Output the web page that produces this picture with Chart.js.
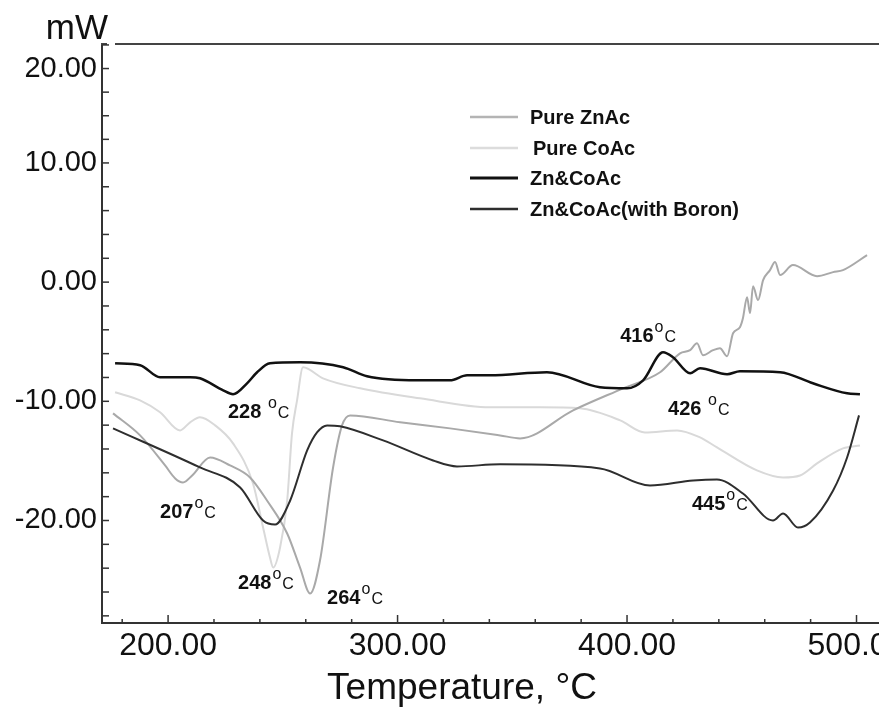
<!DOCTYPE html>
<html>
<head>
<meta charset="utf-8">
<script src="https://cdn.jsdelivr.net/npm/chart.js@4.4.0/dist/chart.umd.min.js"></script>
<style>
html, body { margin: 0; padding: 0; background: #fff; }
</style>
</head>
<body>
<canvas id="chart" width="879" height="708"></canvas>
<script>
// values (temperature in C, heat flow in mW)
const seriesNames = ['Pure ZnAc', 'Pure CoAc', 'Zn&CoAc', 'Zn&CoAc(with Boron)'];

const tempZnAc = [176.0, 187.8, 198.7, 203.1, 206.5, 210.5, 218.3, 227.0, 235.7, 243.1, 251.9, 257.5, 261.9, 266.2, 271.9, 275.8, 279.3, 301.1, 322.9, 344.7, 353.4, 376.5, 398.3, 414.4, 423.1, 427.5, 430.5, 433.1, 437.5, 440.5, 443.6, 446.2, 449.2, 450.5, 452.3, 453.6, 454.9, 457.1, 459.3, 462.3, 464.5, 466.7, 472.3, 482.8, 489.8, 494.1, 504.6];
const mwZnAc = [-11.01, -12.86, -15.38, -16.47, -16.81, -16.22, -14.71, -15.38, -16.39, -18.32, -21.09, -23.95, -26.13, -23.36, -15.55, -12.02, -11.18, -11.76, -12.27, -12.86, -13.11, -10.76, -8.91, -7.56, -5.97, -5.71, -5.13, -6.13, -5.71, -5.55, -6.22, -4.29, -3.78, -3.03, -1.26, -2.61, -0.34, -1.51, 0.17, 1.01, 1.68, 0.59, 1.43, 0.50, 0.84, 1.01, 2.27];

const tempCoAc = [176.9, 187.8, 196.5, 205.2, 209.6, 213.9, 220.5, 228.3, 237.0, 241.4, 244.4, 245.8, 248.8, 251.9, 254.0, 256.2, 258.8, 267.5, 283.7, 309.8, 340.3, 362.1, 379.5, 397.0, 407.8, 421.8, 431.8, 439.2, 456.6, 468.0, 475.4, 482.8, 494.1, 501.5];
const mwCoAc = [-9.24, -9.92, -10.92, -12.44, -11.76, -11.34, -12.02, -13.53, -16.89, -20.59, -23.11, -23.95, -22.27, -18.32, -12.69, -9.92, -7.14, -8.07, -8.91, -9.75, -10.50, -10.50, -10.59, -11.60, -12.61, -12.44, -13.03, -13.87, -15.80, -16.39, -16.22, -15.21, -13.95, -13.70];

const tempZnCoAc = [176.9, 187.8, 196.5, 209.6, 213.9, 224.0, 228.3, 234.4, 238.8, 244.4, 257.5, 276.3, 286.7, 308.5, 322.9, 330.3, 340.3, 365.1, 388.2, 400.0, 407.0, 415.7, 420.0, 427.5, 431.8, 443.6, 449.2, 466.7, 481.0, 495.9, 501.5];
const mwZnCoAc = [-6.81, -6.97, -7.98, -7.98, -8.07, -9.08, -9.41, -8.49, -7.56, -6.81, -6.72, -7.14, -7.90, -8.24, -8.24, -7.82, -7.82, -7.56, -8.82, -8.91, -8.24, -5.88, -6.30, -7.65, -7.23, -7.73, -7.48, -7.56, -8.49, -9.33, -9.41];

const tempBoron = [176.0, 213.9, 231.4, 241.4, 246.6, 253.2, 260.6, 264.9, 269.3, 274.9, 293.7, 315.5, 325.9, 344.7, 388.2, 410.0, 428.8, 439.2, 450.5, 463.6, 468.0, 474.5, 479.7, 489.8, 495.9, 501.1];
const mwBoron = [-12.27, -15.55, -17.23, -20.0, -20.34, -18.32, -14.12, -12.61, -12.02, -12.10, -13.28, -14.96, -15.46, -15.29, -15.63, -17.06, -16.64, -16.55, -17.73, -20.0, -19.41, -20.59, -20.17, -17.48, -14.71, -11.18];

// peak annotations, anchored at (temperature, mW)
const peakLabels = ['228 ', '207', '248', '264', '416', '426 ', '445'];
const peakTemps = [226.1, 196.5, 230.5, 269.3, 397.0, 417.9, 428.3];
const peakMw = [-11.43, -19.75, -25.71, -26.97, -5.04, -11.18, -19.16];

const yTickValues = [-28, -26, -24, -22, -20, -18, -16, -14, -12, -10, -8, -6, -4, -2, 0, 2, 4, 6, 8, 10, 12.5, 15, 17.5, 20, 22.5];

const FONT = '"Liberation Sans", Arial, sans-serif';

// the original axis is squeezed above 10 mW
function warp(v) { return v <= 10 ? v : 10 + (v - 10) * 0.792; }
function unwarp(w) { return w <= 10 ? w : 10 + (w - 10) / 0.792; }

class WarpScale extends Chart.LinearScale {
    getPixelForValue(value) {
        if (value === null || value === undefined) return NaN;
        const a = warp(this.min), b = warp(this.max);
        return this.getPixelForDecimal((warp(value) - a) / (b - a));
    }
    getValueForPixel(pixel) {
        const a = warp(this.min), b = warp(this.max);
        return unwarp(a + this.getDecimalForPixel(pixel) * (b - a));
    }
}
WarpScale.id = 'warp';
WarpScale.defaults = Chart.LinearScale.defaults;
Chart.register(WarpScale);

function points(xs, ys) {
    return xs.map((x, i) => ({ x: x, y: ys[i] }));
}

function line(ctx, x1, y1, x2, y2) {
    ctx.beginPath();
    ctx.moveTo(x1, y1);
    ctx.lineTo(x2, y2);
    ctx.stroke();
}

const legendRows = [117, 148, 178, 209];

const decorPlugin = {
    id: 'decor',
    afterDraw(chart) {
        const ctx = chart.ctx, a = chart.chartArea;
        const xs = chart.scales.x, ys = chart.scales.y;
        ctx.save();

        // top frame
        ctx.strokeStyle = '#444';
        ctx.lineWidth = 2;
        line(ctx, a.left + 13, a.top, a.right, a.top);
        line(ctx, a.left - 1, a.top, a.left + 5, a.top);

        // inward ticks
        ctx.strokeStyle = '#333';
        ctx.lineWidth = 1.5;
        yTickValues.forEach((v) => {
            const p = ys.getPixelForValue(v);
            line(ctx, a.left, p, a.left + 7, p);
        });
        xs.ticks.forEach((t) => {
            const p = xs.getPixelForValue(t.value);
            const len = t.value % 100 === 0 ? 8 : 4;
            line(ctx, p, a.bottom, p, a.bottom - len);
        });

        ctx.fillStyle = '#111';
        ctx.textAlign = 'right';
        ctx.textBaseline = 'alphabetic';
        ctx.font = '35px ' + FONT;
        ctx.fillText('mW', a.left + 6, 39);

        ctx.textAlign = 'center';
        ctx.textBaseline = 'middle';
        ctx.font = '37px ' + FONT;
        ctx.fillText('Temperature, \u00B0C', 462, 689);

        // legend
        ctx.textAlign = 'left';
        chart.data.datasets.forEach((ds, i) => {
            const y = legendRows[i];
            ctx.strokeStyle = ds.legendColor;
            ctx.lineWidth = ds.borderWidth + 0.5;
            line(ctx, 470, y, 518, y);
            ctx.fillStyle = '#111';
            ctx.font = 'bold 20px ' + FONT;
            ctx.fillText(ds.label, i === 1 ? 533 : 530, y + 1);
        });

        // peak labels
        ctx.textBaseline = 'alphabetic';
        ctx.fillStyle = '#111';
        peakLabels.forEach((txt, i) => {
            let px = xs.getPixelForValue(peakTemps[i]);
            const py = ys.getPixelForValue(peakMw[i]);
            ctx.font = 'bold 20px ' + FONT;
            ctx.fillText(txt, px, py);
            px += ctx.measureText(txt).width + 1;
            ctx.font = '16px ' + FONT;
            ctx.fillText('o', px, py - 10);
            px += ctx.measureText('o').width + 1;
            ctx.fillText('C', px, py);
        });

        ctx.restore();
    }
};

new Chart(document.getElementById('chart').getContext('2d'), {
    type: 'line',
    data: {
        datasets: [{
            label: seriesNames[0],
            data: points(tempZnAc, mwZnAc),
            borderColor: '#a9a9a9',
            legendColor: '#b4b4b4',
            borderWidth: 2,
            order: 2
        }, {
            label: seriesNames[1],
            data: points(tempCoAc, mwCoAc),
            borderColor: '#d9d9d9',
            legendColor: '#dcdcdc',
            borderWidth: 2,
            order: 3
        }, {
            label: seriesNames[2],
            data: points(tempZnCoAc, mwZnCoAc),
            borderColor: '#111',
            legendColor: '#111',
            borderWidth: 2.5,
            order: 0
        }, {
            label: seriesNames[3],
            data: points(tempBoron, mwBoron),
            borderColor: '#2e2e2e',
            legendColor: '#2e2e2e',
            borderWidth: 2,
            order: 1
        }]
    },
    options: {
        responsive: false,
        animation: false,
        cubicInterpolationMode: 'monotone',
        elements: { point: { radius: 0 } },
        layout: { padding: { top: 44, left: 0, right: 0, bottom: 0 } },
        plugins: {
            legend: { display: false },
            tooltip: { enabled: false }
        },
        scales: {
            x: {
                type: 'linear',
                min: 171.2,
                max: 509.8,
                grid: { display: false, drawTicks: false },
                border: { display: true, color: '#333', width: 2 },
                ticks: {
                    stepSize: 20,
                    includeBounds: false,
                    autoSkip: false,
                    maxRotation: 0,
                    padding: 4,
                    color: '#111',
                    font: { family: FONT, size: 32 },
                    callback: (v) => v % 100 === 0 ? v.toFixed(2) : ''
                },
                afterFit: (scale) => {
                    scale.height = 85;
                    scale.paddingLeft = 0;
                    scale.paddingRight = 0;
                }
            },
            y: {
                type: 'warp',
                min: -28.6,
                max: 22.6,
                grid: { display: false, drawTicks: false },
                border: { display: true, color: '#333', width: 2 },
                ticks: {
                    autoSkip: false,
                    padding: 5,
                    color: '#111',
                    font: { family: FONT, size: 29 },
                    callback: (v) => v % 10 === 0 ? v.toFixed(2) : ''
                },
                afterBuildTicks: (scale) => {
                    scale.ticks = yTickValues.map((v) => ({ value: v }));
                },
                afterFit: (scale) => {
                    scale.width = 102;
                    scale.paddingTop = 0;
                    scale.paddingBottom = 0;
                }
            }
        }
    },
    plugins: [decorPlugin]
});
</script>
</body>
</html>
